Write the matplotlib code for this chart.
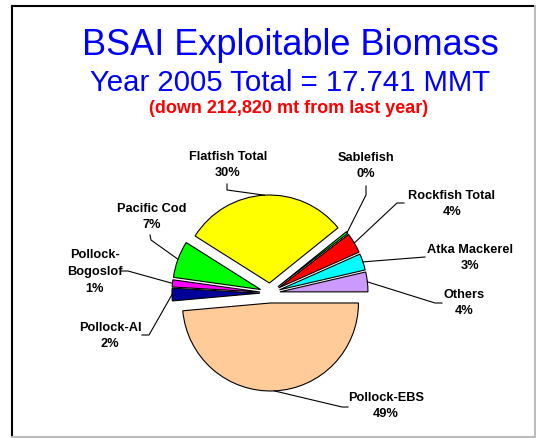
import numpy as np
import matplotlib
matplotlib.use("Agg")
from matplotlib import pyplot as plt
from matplotlib.lines import Line2D

# ====== data ======
species = ['Others', 'Atka Mackerel', 'Rockfish Total', 'Sablefish',
           'Flatfish Total', 'Pacific Cod', 'Pollock-\nBogoslof',
           'Pollock-AI', 'Pollock-EBS']
shares = [3.6, 3.0, 3.7, 0.4, 30.0, 6.7, 1.3, 2.3, 48.2]
pct_labels = ['4%', '3%', '4%', '0%', '30%', '7%', '1%', '2%', '49%']
colors = ['#CC99FF', '#00FFFF', '#FF0000', '#00FF00', '#FFFF00',
          '#00FF00', '#FF00FF', '#000099', '#FFCC99']

# label centre, leader tail (next to text) and elbow, in pixels from top-left
label_pos = [(464, 303), (470, 258), (452, 204), (366, 166), (228, 165),
             (152, 217), (95, 272), (110, 336), (386, 406)]
tail_pos = [(442, 303), (425, 257), (404, 203), (366, 186), (227, 184),
            (150, 235), (121, 271), (142, 335), (348, 407)]
elbow_pos = [(435, 303), (425, 257), (397, 203), (366, 195), (227, 190),
             (151, 240), (128, 271), (149, 335), (342, 407)]

W, H = 536, 438
plt.rcParams['font.family'] = ['Liberation Sans', 'DejaVu Sans']

fig = plt.figure(figsize=(W / 100, H / 100), dpi=100)
ax = fig.add_axes([0, 0, 1, 1])

cx, cy, r = 270, H - 293, 88
wedges, _ = ax.pie(shares, colors=colors, startangle=0, counterclock=True,
                   explode=[10] * len(shares), center=(cx, cy), radius=r,
                   wedgeprops=dict(edgecolor='black', linewidth=0.8))
ax.set_xlim(0, W)
ax.set_ylim(0, H)
ax.set_aspect('equal')
ax.axis('off')

# leader lines + labels
for w, name, pct, lp, tp, ep in zip(wedges, species, pct_labels,
                                    label_pos, tail_pos, elbow_pos):
    mid = np.deg2rad((w.theta1 + w.theta2) / 2)
    px = w.center[0] + w.r * np.cos(mid)
    py = w.center[1] + w.r * np.sin(mid)
    ax.plot([px, ep[0], tp[0]], [py, H - ep[1], H - tp[1]], color='black', lw=0.8)
    ax.text(lp[0], H - lp[1], name + '\n' + pct, ha='center', va='center',
            fontsize=9.2, fontweight='bold', linespacing=1.55)

# titles
fig.text(290 / W, 1 - 55 / H, 'BSAI Exploitable Biomass', ha='center', va='baseline',
         color='#0000FF', fontsize=26)
fig.text(290 / W, 1 - 91 / H, 'Year 2005 Total = 17.741 MMT', ha='center', va='baseline',
         color='#0000FF', fontsize=21.2)
fig.text(289 / W, 1 - 113 / H, '(down 212,820 mt from last year)', ha='center',
         va='baseline', color='#FF0000', fontsize=13, fontweight='bold')

# slide frame
fig.add_artist(Line2D([12 / W, 12 / W], [0, 1 - 6 / H], color='black', lw=1.5))
fig.add_artist(Line2D([12 / W, 1], [1 - 6 / H, 1 - 6 / H], color='black', lw=1.5))
fig.add_artist(Line2D([1 - 1 / W, 1 - 1 / W], [0, 1 - 6 / H], color='#BBBBBB', lw=1.5))
fig.add_artist(Line2D([12 / W, 1], [1 / H, 1 / H], color='#BBBBBB', lw=1.5))

fig.savefig('out.png', dpi=100)
